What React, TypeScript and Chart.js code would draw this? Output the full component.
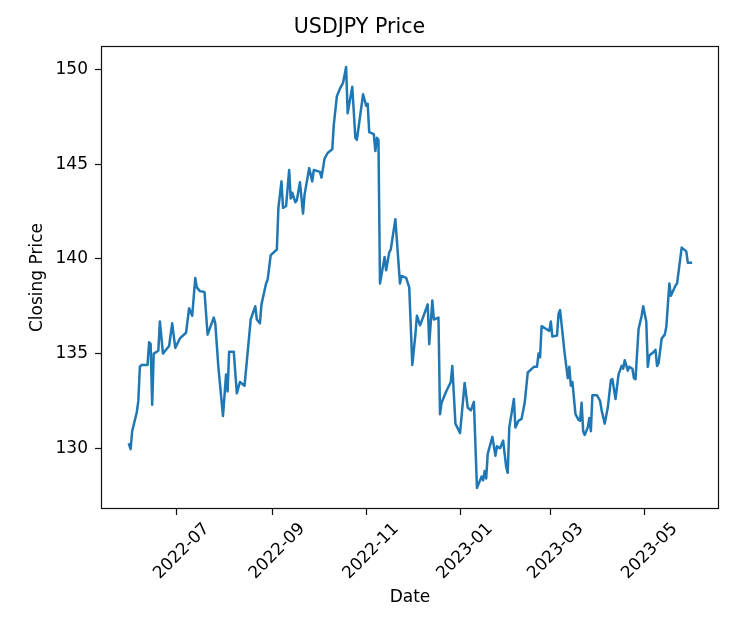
import React, { useEffect, useRef } from 'react';
import { Chart, registerables } from 'chart.js';

Chart.register(...registerables);

const dates: string[] = [
  '2022-05-31', '2022-06-01', '2022-06-02', '2022-06-05', '2022-06-06', '2022-06-07', '2022-06-08', '2022-06-12',
  '2022-06-13', '2022-06-14', '2022-06-15', '2022-06-16', '2022-06-19', '2022-06-20', '2022-06-22', '2022-06-24',
  '2022-06-26', '2022-06-28', '2022-06-30', '2022-07-03', '2022-07-07', '2022-07-09', '2022-07-11', '2022-07-13',
  '2022-07-14', '2022-07-16', '2022-07-19', '2022-07-21', '2022-07-25', '2022-07-26', '2022-07-28', '2022-07-31',
  '2022-08-02', '2022-08-03', '2022-08-04', '2022-08-07', '2022-08-09', '2022-08-11', '2022-08-14', '2022-08-18',
  '2022-08-21', '2022-08-22', '2022-08-24', '2022-08-25', '2022-08-28', '2022-08-29', '2022-08-31', '2022-09-04',
  '2022-09-05', '2022-09-07', '2022-09-08', '2022-09-10', '2022-09-12', '2022-09-13', '2022-09-14', '2022-09-16',
  '2022-09-17', '2022-09-19', '2022-09-21', '2022-09-22', '2022-09-25', '2022-09-27', '2022-09-28', '2022-10-02',
  '2022-10-03', '2022-10-05', '2022-10-07', '2022-10-10', '2022-10-11', '2022-10-13', '2022-10-15', '2022-10-17',
  '2022-10-19', '2022-10-20', '2022-10-23', '2022-10-25', '2022-10-26', '2022-10-28', '2022-10-30', '2022-11-01',
  '2022-11-02', '2022-11-03', '2022-11-06', '2022-11-07', '2022-11-08', '2022-11-09', '2022-11-10', '2022-11-13',
  '2022-11-14', '2022-11-16', '2022-11-17', '2022-11-20', '2022-11-23', '2022-11-24', '2022-11-27', '2022-11-29',
  '2022-12-01', '2022-12-03', '2022-12-04', '2022-12-06', '2022-12-07', '2022-12-11', '2022-12-12', '2022-12-14',
  '2022-12-15', '2022-12-18', '2022-12-19', '2022-12-20', '2022-12-23', '2022-12-26', '2022-12-27', '2022-12-29',
  '2023-01-01', '2023-01-04', '2023-01-06', '2023-01-08', '2023-01-10', '2023-01-12', '2023-01-14', '2023-01-15',
  '2023-01-16', '2023-01-17', '2023-01-18', '2023-01-19', '2023-01-22', '2023-01-24', '2023-01-25', '2023-01-27',
  '2023-01-29', '2023-01-31', '2023-02-01', '2023-02-02', '2023-02-05', '2023-02-06', '2023-02-08', '2023-02-10',
  '2023-02-12', '2023-02-14', '2023-02-18', '2023-02-20', '2023-02-21', '2023-02-22', '2023-02-23', '2023-02-26',
  '2023-02-28', '2023-03-01', '2023-03-02', '2023-03-05', '2023-03-06', '2023-03-07', '2023-03-10', '2023-03-12',
  '2023-03-13', '2023-03-14', '2023-03-15', '2023-03-17', '2023-03-19', '2023-03-20', '2023-03-21', '2023-03-22',
  '2023-03-23', '2023-03-25', '2023-03-26', '2023-03-27', '2023-03-28', '2023-03-31', '2023-04-02', '2023-04-03',
  '2023-04-05', '2023-04-07', '2023-04-09', '2023-04-10', '2023-04-12', '2023-04-14', '2023-04-16', '2023-04-17',
  '2023-04-18', '2023-04-20', '2023-04-21', '2023-04-23', '2023-04-24', '2023-04-25', '2023-04-27', '2023-04-29',
  '2023-04-30', '2023-05-02', '2023-05-03', '2023-05-04', '2023-05-07', '2023-05-08', '2023-05-09', '2023-05-10',
  '2023-05-12', '2023-05-14', '2023-05-15', '2023-05-17', '2023-05-18', '2023-05-21', '2023-05-22', '2023-05-25',
  '2023-05-28', '2023-05-29', '2023-05-31',
];

const closes: number[] = [
  130.2, 129.95, 130.9, 131.9, 132.5, 134.3, 134.4, 134.4,
  135.6, 135.5, 132.3, 135.0, 135.15, 136.7, 135.0, 135.2,
  135.4, 136.6, 135.3, 135.8, 136.1, 137.4, 137.0, 139.0,
  138.5, 138.3, 138.25, 136.0, 136.9, 136.6, 134.3, 131.7,
  133.9, 133.0, 135.1, 135.1, 132.9, 133.5, 133.3, 136.8,
  137.5, 136.8, 136.6, 137.6, 138.7, 138.9, 140.2, 140.5,
  142.7, 144.1, 142.7, 142.8, 144.7, 143.2, 143.5, 143.0,
  143.1, 144.05, 142.4, 143.4, 144.8, 144.1, 144.7, 144.6,
  144.3, 145.3, 145.6, 145.8, 147.1, 148.6, 149.0, 149.3,
  150.14, 147.7, 149.1, 146.4, 146.3, 147.5, 148.7, 148.1,
  148.2, 146.7, 146.6, 145.7, 146.4, 146.3, 138.7, 140.1,
  139.4, 140.35, 140.5, 142.1, 138.7, 139.1, 139.0, 138.5,
  134.4, 136.0, 137.0, 136.5, 136.7, 137.6, 135.5, 137.8,
  136.8, 136.9, 131.8, 132.4, 133.0, 133.5, 134.35, 131.3,
  130.8, 133.45, 132.15, 132.0, 132.45, 127.9, 128.3, 128.5,
  128.3, 128.8, 128.4, 129.7, 130.6, 129.6, 130.1, 130.0,
  130.4, 129.0, 128.7, 131.1, 132.6, 131.1, 131.45, 131.55,
  132.4, 134.0, 134.3, 134.3, 135.0, 134.8, 136.45, 136.3,
  136.2, 136.7, 135.9, 135.95, 137.1, 137.3, 135.0, 133.7,
  134.3, 133.3, 133.5, 131.8, 131.5, 131.45, 132.4, 130.9,
  130.7, 131.1, 131.6, 130.9, 132.8, 132.8, 132.5, 132.0,
  131.3, 132.15, 133.6, 133.65, 132.6, 133.9, 134.35, 134.2,
  134.65, 134.1, 134.3, 134.2, 133.7, 133.65, 136.3, 137.0,
  137.5, 136.7, 134.3, 134.9, 135.1, 135.2, 134.35, 134.5,
  135.8, 136.0, 136.4, 138.7, 138.05, 138.6, 138.7, 140.6,
  140.4, 139.8, 139.8,
];

const xTickDates: string[] = ['2022-07-01', '2022-09-01', '2022-11-01', '2023-01-01', '2023-03-01', '2023-05-01'];
const yTickValues: number[] = [130, 135, 140, 145, 150];

const DAY_MS = 86400000;
const toDay = (s: string) => Date.parse(s + 'T00:00:00Z') / DAY_MS;
const fmtMonth = (d: number) => new Date(d * DAY_MS).toISOString().slice(0, 7);

const FONT = 'DejaVu Sans';

const framePlugin = {
  id: 'frame',
  afterDatasetsDraw(chart: any) {
    const { ctx, chartArea } = chart;
    const { left, top, right, bottom } = chartArea;
    ctx.save();
    ctx.strokeStyle = '#111';
    ctx.lineWidth = 1.2;
    ctx.strokeRect(Math.round(left) + 0.5, Math.round(top) + 0.5, Math.round(right - left) - 1, Math.round(bottom - top) - 1);
    ctx.restore();
  },
};

export default function App() {
  const canvasRef = useRef<HTMLCanvasElement | null>(null);

  useEffect(() => {
    const canvas = canvasRef.current;
    if (!canvas) return;
    const xs = dates.map(toDay);
    const points = xs.map((x, i) => ({ x, y: closes[i] }));
    const x0 = Math.min(...xs);
    const x1 = Math.max(...xs);
    const xm = (x1 - x0) * 0.05;
    const y0 = Math.min(...closes);
    const y1 = Math.max(...closes);
    const ym = (y1 - y0) * 0.05;
    const tickFont = { family: FONT, size: 17 };

    const chart = new Chart(canvas, {
      type: 'line',
      data: {
        datasets: [
          {
            label: 'Close',
            data: points,
            borderColor: '#1f77b4',
            borderWidth: 2.5,
            pointRadius: 0,
            tension: 0,
            fill: false,
            borderJoinStyle: 'round',
            borderCapStyle: 'square',
          },
        ],
      },
      options: {
        animation: false,
        responsive: false,
        maintainAspectRatio: false,
        devicePixelRatio: 1,
        layout: { padding: { left: 0, right: 35, top: 0, bottom: 0 } },
        plugins: {
          legend: { display: false },
          tooltip: { enabled: false },
          title: {
            display: true,
            text: 'USDJPY Price',
            color: '#000',
            font: { family: FONT, size: 20.6, weight: 'normal' },
            padding: { top: 15.6, bottom: 5.7 },
          },
        },
        scales: {
          x: {
            type: 'linear',
            min: x0 - xm,
            max: x1 + xm,
            afterBuildTicks: (axis: any) => {
              axis.ticks = xTickDates.map((d) => ({ value: toDay(d) }));
            },
            afterFit: (axis: any) => {
              axis.height = 111;
            },
            grid: { drawOnChartArea: false, drawTicks: true, tickLength: 6, tickColor: '#111', tickWidth: 1.2 },
            border: { display: false },
            ticks: {
              autoSkip: false,
              maxRotation: 45,
              minRotation: 45,
              labelOffset: 30,
              padding: 4,
              color: '#000',
              font: tickFont,
              callback: (v: any) => fmtMonth(Number(v)),
            },
            title: {
              display: true,
              text: 'Date',
              color: '#000',
              font: { family: FONT, size: 17 },
              padding: { top: 0, bottom: 12 },
            },
          },
          y: {
            type: 'linear',
            min: y0 - ym,
            max: y1 + ym,
            afterBuildTicks: (axis: any) => {
              axis.ticks = yTickValues.map((v) => ({ value: v }));
            },
            afterFit: (axis: any) => {
              axis.width = 101;
            },
            grid: { drawOnChartArea: false, drawTicks: true, tickLength: 6, tickColor: '#111', tickWidth: 1.2 },
            border: { display: false },
            ticks: {
              padding: 7,
              color: '#000',
              font: tickFont,
              callback: (v: any) => String(v),
            },
            title: {
              display: true,
              text: 'Closing Price',
              color: '#000',
              font: { family: FONT, size: 17 },
              padding: { top: 27, bottom: 0 },
            },
          },
        },
      },
      plugins: [framePlugin],
    } as any);

    return () => chart.destroy();
  }, []);

  return (
    <div style={{ position: 'fixed', left: 0, top: 0, width: 754, height: 620, background: '#fff' }}>
      <canvas ref={canvasRef} width={754} height={620} style={{ display: 'block', width: 754, height: 620 }} />
    </div>
  );
}
